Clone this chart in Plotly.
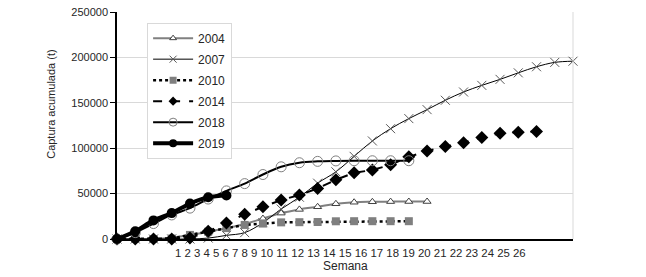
import plotly.graph_objects as go

weeks = list(range(26))
week_labels = [str(i) for i in range(1, 27)]

y2004 = [0, 0, 0, 1500, 4500, 8000, 12000, 16500, 22500, 28500, 32600, 35500, 38800, 40500, 41000, 41200, 41300, 41300]
y2007 = [0, 0, 0, 0, 0, 1000, 4000, 7000, 18000, 33000, 46000, 61500, 74000, 91000, 108000, 121500, 132600,
         142500, 152800, 161900, 169200, 175800, 183000, 189700, 194500, 195800]
y2010 = [0, 0, 0, 500, 4500, 8000, 12000, 15500, 17000, 18300, 18500, 18700, 19500, 19600, 19600, 19600, 19600]
y2014 = [0, 0, 0, 0, 1000, 8500, 17500, 27300, 35500, 42900, 48400, 55700, 65200, 72900, 76000, 81700, 90500,
         97000, 101800, 106000, 111800, 116500, 117700, 118500]
y2018 = [0, 7000, 17000, 26500, 34000, 44000, 53000, 61000, 71000, 79500, 84000, 85500, 86000, 86200, 86200,
         86200, 86200]
y2019 = [0, 8500, 20500, 28500, 39000, 46000, 48000]

FONT = "Arial, Liberation Sans, sans-serif"

fig = go.Figure()

def add(name, ys, line, marker, legend_marker, shape="linear"):
    fig.add_trace(go.Scatter(
        x=weeks[:len(ys)], y=ys, name=name, mode="lines+markers",
        line=dict(shape=shape, **line), marker=marker, cliponaxis=False,
        showlegend=False,
    ))
    # legend entry with smaller marker, as in the reference legend
    fig.add_trace(go.Scatter(
        x=[None], y=[None], name=name, mode="lines+markers",
        line=dict(**line), marker=legend_marker, legendgroup=name,
    ))

add("2004", y2004, dict(color="#808080", width=2),
    dict(symbol="triangle-up", size=7, color="white", line=dict(color="#404040", width=1)),
    dict(symbol="triangle-up", size=6, color="white", line=dict(color="#404040", width=1)), "spline")
add("2007", y2007, dict(color="#000000", width=1),
    dict(symbol="x-thin", size=9, color="#595959", line=dict(color="#595959", width=1)),
    dict(symbol="x-thin", size=7, color="#595959", line=dict(color="#595959", width=1)), "spline")
add("2010", y2010, dict(color="#000000", width=2.5, dash="dot"),
    dict(symbol="square", size=8, color="#7f7f7f", line=dict(width=0)),
    dict(symbol="square", size=7, color="#7f7f7f", line=dict(width=0)))
add("2014", y2014, dict(color="#000000", width=2, dash="dash"),
    dict(symbol="diamond", size=10, color="#000000", line=dict(width=0)),
    dict(symbol="diamond", size=7, color="#000000", line=dict(width=0)))
add("2018", y2018, dict(color="#000000", width=2),
    dict(symbol="circle-open", size=10, color="#7f7f7f", line=dict(width=1)),
    dict(symbol="circle-open", size=8, color="#7f7f7f", line=dict(width=1)), "spline")
add("2019", y2019, dict(color="#000000", width=4),
    dict(symbol="circle", size=10, color="#000000"),
    dict(symbol="circle", size=8, color="#000000"), "spline")

fig.update_layout(
    width=646, height=277,
    margin=dict(l=117, r=73, t=12, b=38, autoexpand=False),
    paper_bgcolor="white", plot_bgcolor="white",
    font=dict(family=FONT, size=11, color="#262626"),
    showlegend=True,
    legend=dict(
        x=0.066, y=0.953, xanchor="left", yanchor="top",
        bgcolor="white", bordercolor="#d9d9d9", borderwidth=1,
        font=dict(family=FONT, size=12, color="#262626"),
        tracegroupgap=2, itemwidth=40,
    ),
    xaxis=dict(
        range=[0, 25], showgrid=False, zeroline=False, automargin=False,
        showline=True, linecolor="#000000", linewidth=1.5,
        showticklabels=False, ticks="",
    ),
    yaxis=dict(
        range=[0, 250000], tickvals=[0, 50000, 100000, 150000, 200000, 250000],
        tickformat="d", showgrid=True, gridcolor="#d9d9d9", gridwidth=1,
        zeroline=False, showline=True, linecolor="#000000", linewidth=1.5, automargin=False,
        ticks="outside", ticklen=5, tickcolor="#000000",
        tickfont=dict(family=FONT, size=11, color="#262626"),
    ),
    shapes=[dict(type="line", xref="paper", yref="paper", x0=1, x1=1, y0=0, y1=1,
                 line=dict(color="#d9d9d9", width=1))],
    annotations=[
        dict(text=" ".join(week_labels), xref="paper", yref="paper", x=0.1228, y=-0.060,
             xanchor="left", yanchor="middle", showarrow=False,
             font=dict(family=FONT, size=11.4, color="#262626")),
        dict(text="Semana", xref="paper", yref="paper", x=0.5, y=-0.118,
             xanchor="center", yanchor="middle", showarrow=False,
             font=dict(family=FONT, size=12, color="#262626")),
        dict(text="Captura acumulada (t)", xref="paper", yref="paper", x=-0.145, y=0.595,
             xanchor="center", yanchor="middle", showarrow=False, textangle=-90,
             font=dict(family=FONT, size=11, color="#262626")),
    ],
)

fig.write_html("out.html")
